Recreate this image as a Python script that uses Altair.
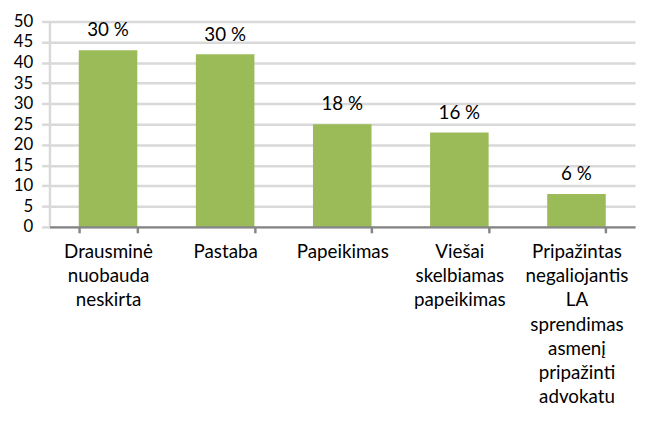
import altair as alt
import pandas as pd

categories = [
    "Drausminė nuobauda neskirta",
    "Pastaba",
    "Papeikimas",
    "Viešai skelbiamas papeikimas",
    "Pripažintas negaliojantis LA sprendimas asmenį pripažinti advokatu",
]
values = [43, 42, 25, 23, 8]
pct_labels = ["30 %", "30 %", "18 %", "16 %", "6 %"]

df = pd.DataFrame({"cat": categories, "val": values, "pct": pct_labels})

FONT = "Lato"

x = alt.X(
    "cat:N",
    sort=categories,
    title=None,
    scale=alt.Scale(paddingInner=0.5, paddingOuter=0.25),
    axis=alt.Axis(
        labelExpr="split(datum.label, ' ')",
        labelAngle=0,
        labelFont=FONT,
        labelFontSize=19,
        labelColor="#000000",
        labelLineHeight=24.5,
        labelPadding=10,
        labelLimit=300,
        labelOverlap=False,
        labelBaseline="top",
        domainColor="#868686",
        domainWidth=2.5,
        tickColor="#868686",
        tickWidth=2.5,
        tickSize=6,
        tickBand="extent",
        grid=False,
        zindex=1,
    ),
)

y = alt.Y(
    "val:Q",
    title=None,
    scale=alt.Scale(domain=[0, 50], nice=False),
    axis=alt.Axis(
        tickCount=10,
        labelOverlap=False,
        labelFont=FONT,
        labelFontSize=17,
        labelColor="#000000",
        labelPadding=9,
        domainColor="#d9d9d9",
        domainWidth=2.5,
        ticks=True,
        tickColor="#d9d9d9",
        tickWidth=2.5,
        tickSize=8,
        grid=True,
        gridColor="#d9d9d9",
        gridWidth=2.5,
        zindex=0,
    ),
)

bars = alt.Chart(df).mark_bar(color="#9BBB59").encode(x=x, y=y)
text = alt.Chart(df).mark_text(
    font=FONT, fontSize=19, color="#000000", baseline="alphabetic", dy=-14
).encode(x=x, y=y, text="pct:N")

chart = (
    alt.layer(bars, text)
    .properties(
        width=593,
        height=208,
        autosize=alt.AutoSizeParams(type="none"),
        padding={"left": 42, "top": 11, "right": 2, "bottom": 201},
    )
    .configure_view(stroke=None)
)

chart.save("out.html", embed_options={"renderer": "svg", "actions": False})
